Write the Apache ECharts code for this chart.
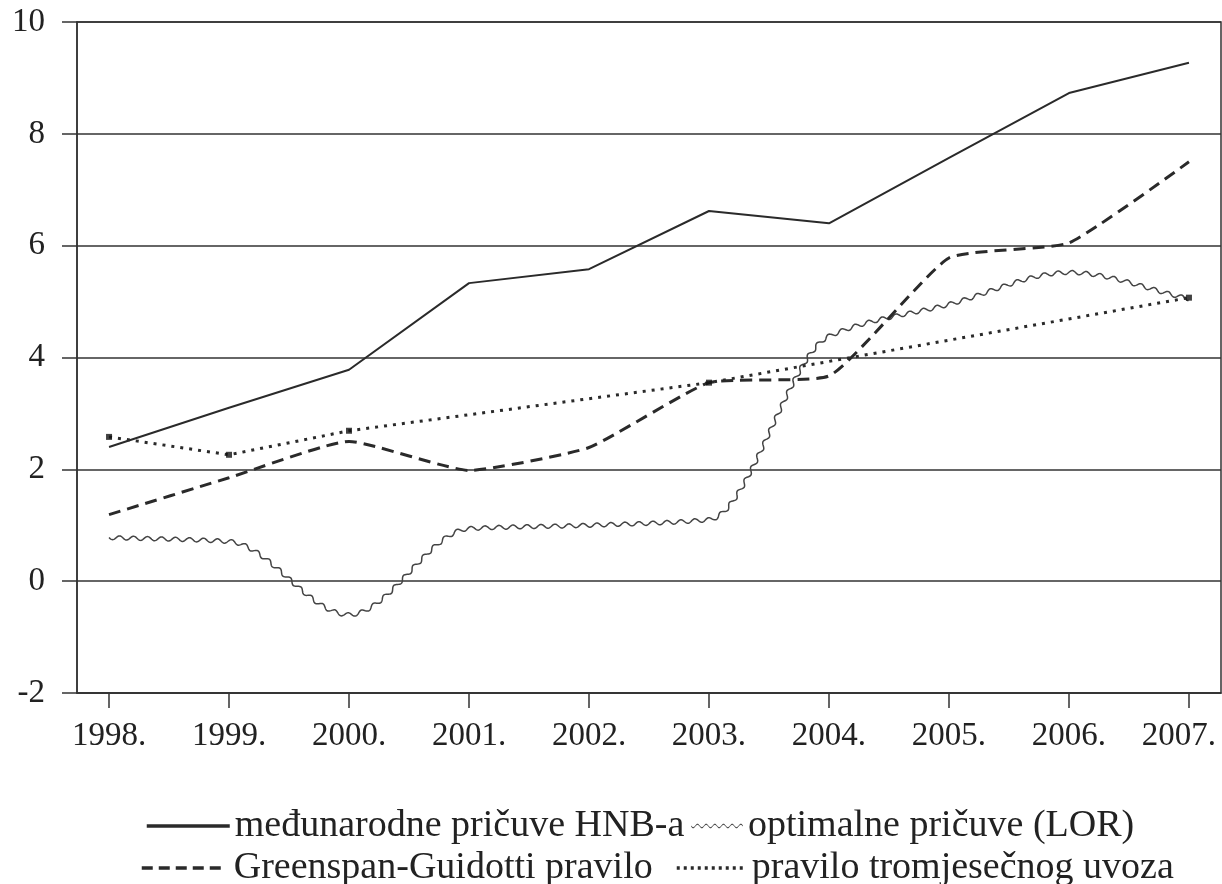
<!DOCTYPE html>
<html>
<head>
<meta charset="utf-8">
<script src="https://cdn.jsdelivr.net/npm/echarts@6/dist/echarts.min.js"></script>
<style>
  html, body { margin: 0; padding: 0; background: #fff; }
  #chart { width: 1222px; height: 884px; }
</style>
</head>
<body>
<div id="chart"></div>
<script>
// podaci (mlrd. EUR), očitano s grafikona
const years = [1998, 1999, 2000, 2001, 2002, 2003, 2004, 2005, 2006, 2007];
const hnbReserves = [2.4, 3.1, 3.78, 5.33, 5.58, 6.62, 6.4, 7.57, 8.73, 9.27];
const lorReserves = [0.78, 0.71, -0.6, 0.94, 1.0, 1.1, 4.38, 4.95, 5.52, 5.05];
const ggRule = [1.19, 1.85, 2.5, 1.98, 2.39, 3.55, 3.67, 5.78, 6.05, 7.5];
const importYears = [1998, 1999, 2000, 2003, 2007];
const importRule = [2.58, 2.26, 2.69, 3.55, 5.07];
const yTicks = [-2, 0, 2, 4, 6, 8, 10];

const names = [
  'međunarodne pričuve HNB-a',
  'optimalne pričuve (LOR)',
  'Greenspan-Guidotti pravilo',
  'pravilo tromjesečnog uvoza'
];

const FONT = '"Liberation Serif", "Times New Roman", serif';
const INK = '#2a2a2a';

// valovita linija: monotona kubna krivulja kroz točke + sinusni pomak
function drawWavy(params, api) {
  if (params.dataIndex !== 0) return null;
  const p = years.map((y, i) => api.coord([y, lorReserves[i]]));
  const n = p.length;
  const dx = [], m = [];
  for (let i = 0; i < n - 1; i++) {
    dx.push(p[i + 1][0] - p[i][0]);
    m.push((p[i + 1][1] - p[i][1]) / dx[i]);
  }
  const t = [m[0]];
  for (let i = 1; i < n - 1; i++) {
    if (m[i - 1] * m[i] <= 0) t.push(0);
    else {
      const w1 = 2 * dx[i] + dx[i - 1], w2 = dx[i] + 2 * dx[i - 1];
      t.push((w1 + w2) / (w1 / m[i - 1] + w2 / m[i]));
    }
  }
  t.push(m[n - 2]);

  const curve = [];
  for (let i = 0; i < n - 1; i++) {
    const steps = 200;
    for (let s = 0; s < steps; s++) {
      const u = s / steps, h = dx[i];
      const h00 = 2 * u * u * u - 3 * u * u + 1, h10 = u * u * u - 2 * u * u + u;
      const h01 = -2 * u * u * u + 3 * u * u, h11 = u * u * u - u * u;
      curve.push([p[i][0] + u * h,
        h00 * p[i][1] + h10 * h * t[i] + h01 * p[i + 1][1] + h11 * h * t[i + 1]]);
    }
  }
  curve.push(p[n - 1]);

  const out = [];
  let len = 0;
  const wave = 14, amp = 2;
  for (let i = 0; i < curve.length; i++) {
    if (i > 0) len += Math.hypot(curve[i][0] - curve[i - 1][0], curve[i][1] - curve[i - 1][1]);
    const a = curve[Math.max(i - 1, 0)], b = curve[Math.min(i + 1, curve.length - 1)];
    const vx = b[0] - a[0], vy = b[1] - a[1], vl = Math.hypot(vx, vy) || 1;
    const off = amp * Math.sin(2 * Math.PI * len / wave);
    out.push([curve[i][0] - vy / vl * off, curve[i][1] + vx / vl * off]);
  }
  return {
    type: 'polyline',
    shape: { points: out },
    style: { stroke: '#444', lineWidth: 1.5, fill: null }
  };
}

// ikona valovite linije za legendu
function wavyIcon() {
  const top = [], bottom = [];
  for (let x = 0; x <= 60; x += 0.5) {
    const y = 2 + 2 * Math.sin(2 * Math.PI * x / 10);
    top.push(x + ',' + y.toFixed(2));
    bottom.push(x + ',' + (y + 1.3).toFixed(2));
  }
  return 'path://M' + top.join(' L') + ' L' + bottom.reverse().join(' L') + ' Z';
}

function legendText(gap) {
  return { fontFamily: FONT, fontSize: 38, color: '#222', padding: [0, 0, 0, gap] };
}
const noSymbol = { opacity: 0 };

const chart = echarts.init(document.getElementById('chart'));
chart.setOption({
  animation: false,
  backgroundColor: '#fff',
  grid: {
    left: 77, right: 1, top: 22, bottom: 191,
    outerBoundsMode: 'none',
    containLabel: false,
    show: true, borderColor: '#333', borderWidth: 1.5
  },
  legend: [
    { data: [names[0]], left: 140, top: 802, itemWidth: 83, itemHeight: 14,
      itemStyle: noSymbol, lineStyle: { width: 3.5 }, textStyle: legendText(0) },
    { data: [{ name: names[1], icon: wavyIcon() }], left: 686, top: 802, itemWidth: 52, itemHeight: 6,
      textStyle: legendText(0) },
    { data: [names[2]], left: 135, top: 844, itemWidth: 83, itemHeight: 14,
      itemStyle: noSymbol, lineStyle: { width: 3.5, type: [11, 6] }, textStyle: legendText(4) },
    { data: [names[3]], left: 670, top: 844, itemWidth: 70, itemHeight: 14,
      itemStyle: noSymbol, lineStyle: { width: 3.5, type: [3, 4] }, textStyle: legendText(0) }
  ],
  xAxis: {
    type: 'value',
    min: 1997.733,
    max: 2007.267,
    axisLine: { onZero: false, lineStyle: { color: '#333', width: 1.5 } },
    axisTick: { show: true, customValues: years, length: 15, lineStyle: { color: '#333', width: 1.5 } },
    axisLabel: {
      customValues: years,
      formatter: v => v === 2007 ? '{last|' + v + '.}' : v + '.',
      rich: { last: { fontFamily: FONT, fontSize: 33, color: '#222', padding: [0, 20, 0, 0] } },
      fontFamily: FONT, fontSize: 33, color: '#222', margin: 27
    },
    splitLine: { show: false }
  },
  yAxis: {
    type: 'value',
    min: -2, max: 10, interval: 2,
    axisLine: { show: true, onZero: false, lineStyle: { color: '#333', width: 1.5 } },
    axisTick: { show: true, length: 15, lineStyle: { color: '#333', width: 1.5 } },
    axisLabel: { fontFamily: FONT, fontSize: 33, color: '#222', margin: 32 },
    splitLine: { show: true, lineStyle: { color: '#333', width: 1.5 } }
  },
  series: [
    {
      name: names[0],
      type: 'line',
      data: years.map((y, i) => [y, hnbReserves[i]]),
      symbol: 'none',
      lineStyle: { color: INK, width: 2 },
      itemStyle: { color: INK }
    },
    {
      name: names[1],
      type: 'custom',
      renderItem: drawWavy,
      data: years.map((y, i) => [y, lorReserves[i]]),
      encode: { x: 0, y: 1 },
      itemStyle: { color: '#444' }
    },
    {
      name: names[2],
      type: 'line',
      data: years.map((y, i) => [y, ggRule[i]]),
      symbol: 'none',
      smooth: 0.15,
      lineStyle: { color: INK, width: 3, type: [12, 7] },
      itemStyle: { color: INK }
    },
    {
      name: names[3],
      type: 'line',
      data: importYears.map((y, i) => [y, importRule[i]]),
      symbol: 'none',
      lineStyle: { color: INK, width: 3, type: [3, 6] },
      itemStyle: { color: INK }
    },
    {
      name: 'tromjesečni uvoz - točke',
      type: 'scatter',
      data: importYears.map((y, i) => [y, importRule[i]]),
      symbol: 'rect',
      symbolSize: 6,
      itemStyle: { color: '#111' },
      z: 3
    }
  ]
});
</script>
</body>
</html>
